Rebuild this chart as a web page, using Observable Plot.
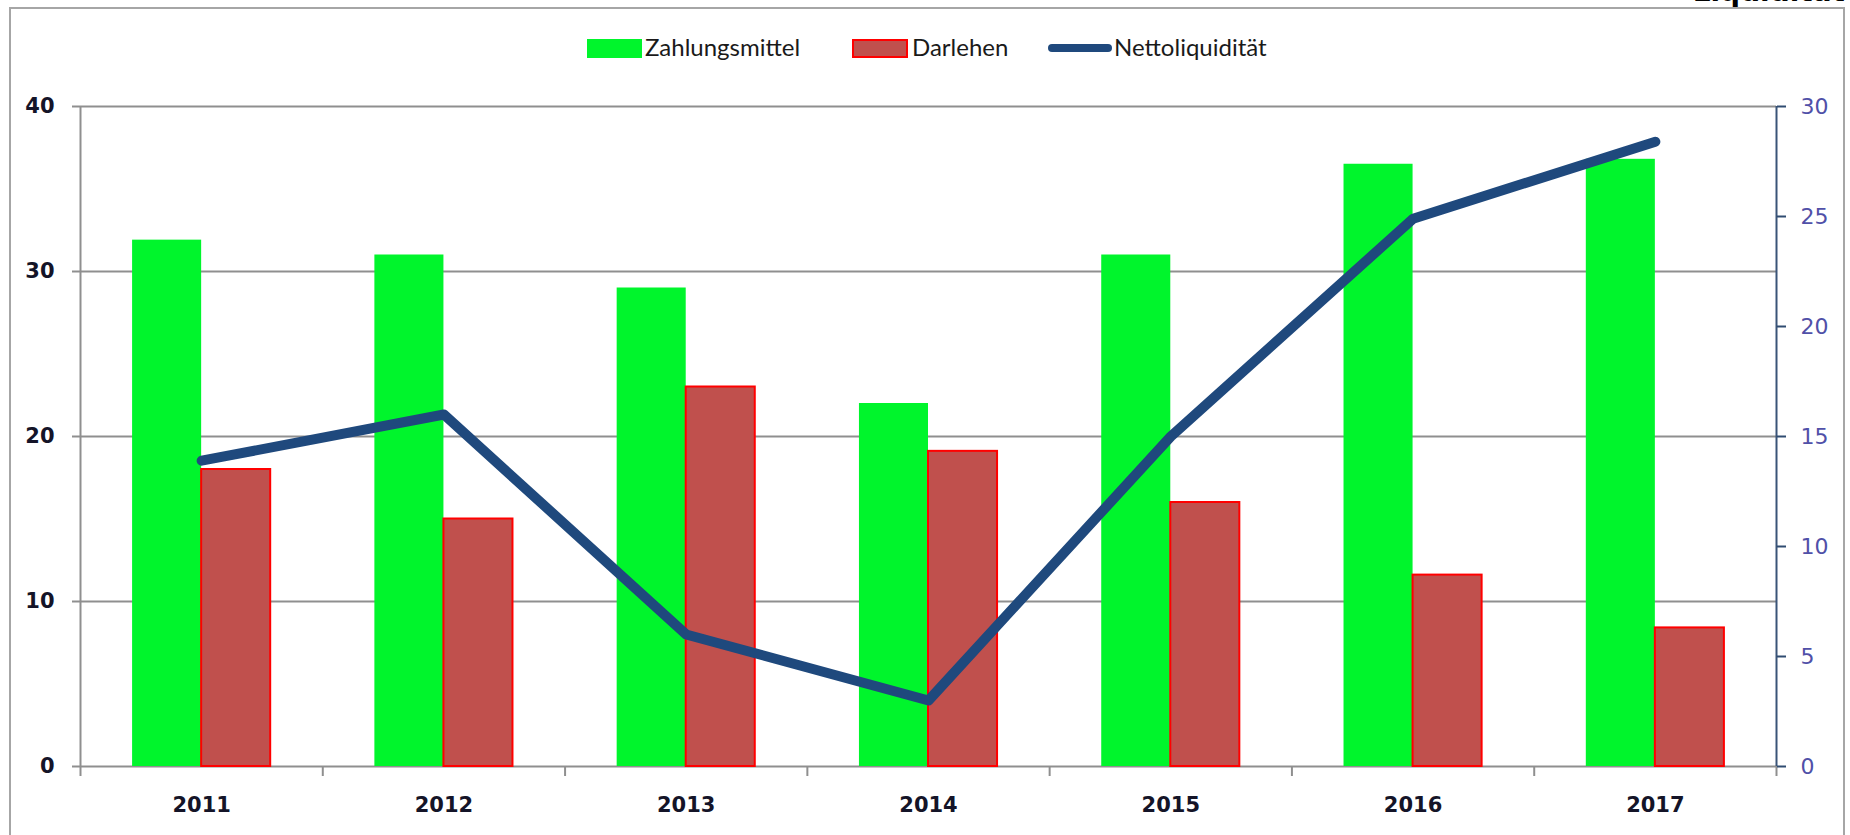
<!DOCTYPE html>
<html>
<head>
<meta charset="utf-8">
<script src="https://cdn.jsdelivr.net/npm/d3@7"></script>
<script src="https://cdn.jsdelivr.net/npm/@observablehq/plot@0.6"></script>
<style>
  html, body { margin: 0; padding: 0; background: #fff; overflow: hidden; }
  #wrap { position: relative; width: 1850px; height: 835px; overflow: hidden; }
  #frame { position: absolute; left: 9px; top: 7px; width: 1836px; height: 840px; border: 2px solid #a6a6a6; box-sizing: border-box; }
  #clipTitle { position: absolute; right: 5px; top: -25px; font: bold 28px "DejaVu Sans", sans-serif; color: #000; white-space: nowrap; }
  #chart { position: absolute; left: 0; top: 0; }
  .lg { position: absolute; font-family: Lato, "Open Sans", sans-serif; font-size: 24px; color: #1a1a1a; top: 33px; line-height: 28px; white-space: nowrap; }
  .sw { position: absolute; }
</style>
</head>
<body>
<div id="wrap">
  <div id="frame"></div>
  <div id="clipTitle">Liquidität</div>
  <div id="chart"></div>
  <div id="legend"></div>
</div>
<script>
// ---- data ----
const years = ["2011", "2012", "2013", "2014", "2015", "2016", "2017"];
const zahlungsmittel = [31.9, 31, 29, 22, 31, 36.5, 36.8];
const darlehen = [18, 15, 23, 19.1, 16, 11.6, 8.4];
const nettoliquiditaet = [13.9, 16, 6, 3, 15, 24.9, 28.4];
const leftTicks = [0, 10, 20, 30, 40];
const rightTicks = [0, 5, 10, 15, 20, 25, 30];
const seriesNames = ["Zahlungsmittel", "Darlehen", "Nettoliquidität"];
const seriesColors = ["#00f52c", "#c0504d", "#1f497d"];

const leftMax = 40, rightMax = 30;
const toLeft = v => v * leftMax / rightMax;

const rows = years.map((year, i) => ({
  year, i, z: zahlungsmittel[i], d: darlehen[i], n: nettoliquiditaet[i]
}));
const boundaries = years.map((_, i) => i).concat([years.length]);

const gray = "#8f8f8f";

const plot = Plot.plot({
  width: 1850,
  height: 835,
  marginLeft: 80,
  marginRight: 74,
  marginTop: 106,
  marginBottom: 69,
  style: { fontFamily: "'DejaVu Sans', sans-serif", background: "transparent", color: "#111" },
  x: { type: "linear", domain: [0, years.length], axis: null },
  y: { domain: [0, leftMax], axis: null },
  marks: [
    Plot.gridY(leftTicks, { stroke: gray, strokeOpacity: 1, strokeWidth: 2 }),
    Plot.ruleX([0], { stroke: gray, strokeWidth: 2 }),
    Plot.axisX(boundaries, { tickSize: 10, tickFormat: () => "", stroke: gray, strokeWidth: 2, label: null }),
    Plot.axisY(leftTicks, {
      anchor: "left", tickSize: 8, tickPadding: 18, stroke: gray, strokeWidth: 2,
      fill: "#141428", fontSize: 21, fontWeight: "bold", label: null
    }),
    Plot.axisX(rows.map(r => r.i + 0.5), {
      tickSize: 0, tickPadding: 31, tickFormat: d => years[Math.floor(d)],
      fill: "#141428", fontSize: 21, fontWeight: "bold", label: null
    }),
    Plot.rectY(rows, { x1: d => d.i + 0.215, x2: d => d.i + 0.5, y: "z", fill: seriesColors[0] }),
    Plot.rectY(rows, { x1: d => d.i + 0.5, x2: d => d.i + 0.785, y: "d", fill: seriesColors[1], stroke: "#ff0000", strokeWidth: 2 }),
    Plot.ruleX([years.length], { stroke: "#3a5478", strokeWidth: 2 }),
    Plot.axisY(rightTicks.map(toLeft), {
      anchor: "right", tickSize: 9, tickPadding: 15, stroke: "#2f4b70", strokeWidth: 2,
      tickFormat: d => String(Math.round(d * rightMax / leftMax)),
      fill: "#5050a8", fontSize: 22, label: null
    }),
    Plot.line(rows, {
      x: d => d.i + 0.5, y: d => toLeft(d.n),
      stroke: seriesColors[2], strokeWidth: 10, strokeLinecap: "round", strokeLinejoin: "round"
    })
  ]
});
document.getElementById("chart").appendChild(plot);

// ---- legend (HTML) ----
const legend = document.getElementById("legend");
const items = [
  { sw: { left: 587, top: 39, width: 55, height: 19, background: seriesColors[0] }, text: 645 },
  { sw: { left: 852, top: 39, width: 56, height: 19, background: seriesColors[1], border: "2px solid #ff0000", boxSizing: "border-box" }, text: 912 },
  { sw: { left: 1048, top: 44, width: 64, height: 8, background: seriesColors[2], borderRadius: "4px" }, text: 1114 }
];
items.forEach((it, k) => {
  const s = document.createElement("div");
  s.className = "sw";
  Object.entries(it.sw).forEach(([key, v]) => s.style[key] = typeof v === "number" ? v + "px" : v);
  legend.appendChild(s);
  const t = document.createElement("div");
  t.className = "lg";
  t.style.left = it.text + "px";
  t.textContent = seriesNames[k];
  legend.appendChild(t);
});
</script>
</body>
</html>
